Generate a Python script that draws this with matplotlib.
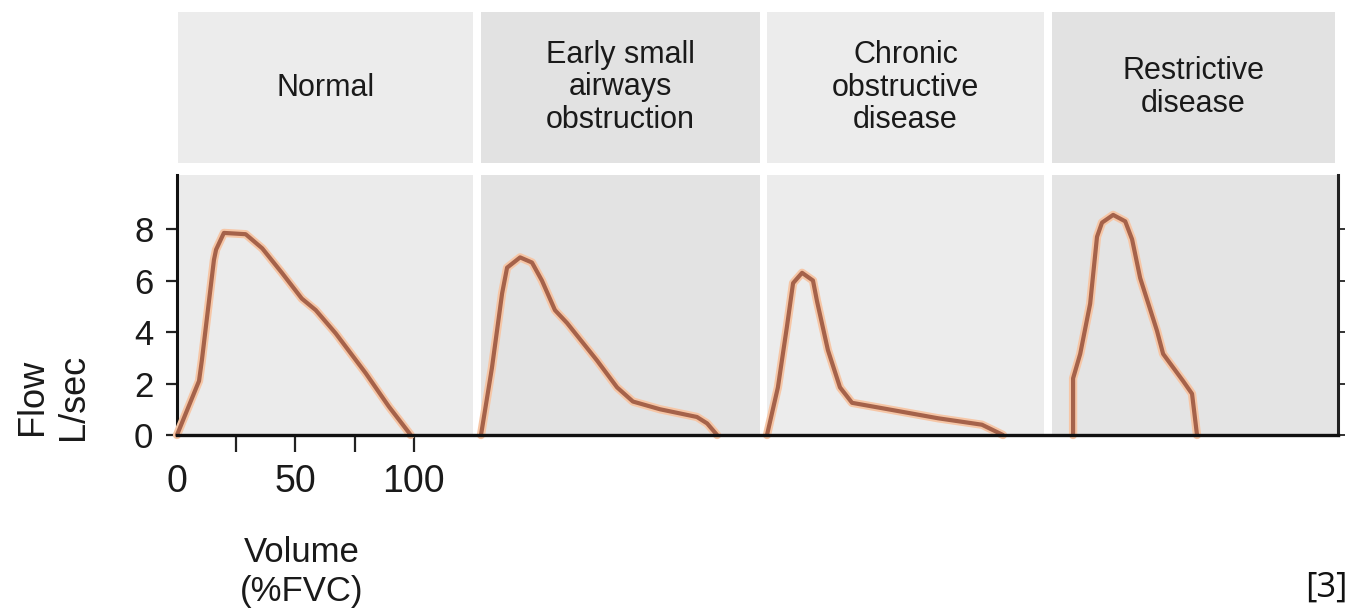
import matplotlib
matplotlib.use("Agg")
import matplotlib.pyplot as plt
import matplotlib.patheffects as pe

plt.rcParams['font.family'] = ['Liberation Sans', 'DejaVu Sans']

# ---------------- data ----------------
titles = ["Normal", "Early small\nairways\nobstruction",
          "Chronic\nobstructive\ndisease", "Restrictive\ndisease"]

normal_vol = [0, 9.3, 10.5, 13.5, 15.6, 16.5, 19.8, 29, 36, 44.3, 52.7, 58.6, 67, 79.7, 89.5, 98.7]
normal_flow = [0, 2.1, 2.9, 5.2, 6.8, 7.2, 7.85, 7.8, 7.25, 6.3, 5.3, 4.85, 3.95, 2.4, 1.1, 0]

early_vol = [0, 4.6, 8.9, 11, 16.5, 21.5, 25.7, 31.2, 36.3, 48.9, 57.4, 64.1, 75.5, 91.1, 95.4, 99.6]
early_flow = [0, 2.6, 5.5, 6.5, 6.9, 6.7, 6.0, 4.85, 4.35, 2.9, 1.85, 1.3, 1.0, 0.7, 0.45, 0]

copd_vol = [0, 4.6, 8.4, 11, 14.8, 19.4, 21.1, 25.7, 30.8, 35.9, 51.1, 72.2, 90.7, 99.6]
copd_flow = [0, 1.85, 4.2, 5.9, 6.3, 6.0, 5.2, 3.3, 1.85, 1.25, 1.0, 0.65, 0.4, 0]

restr_vol = [0, 0, 3.0, 7.2, 10.1, 12.2, 16.9, 22, 24.9, 28.3, 35.4, 38, 46.4, 50.2, 52.3]
restr_flow = [0, 2.2, 3.15, 5.1, 7.7, 8.25, 8.55, 8.3, 7.6, 6.1, 4.05, 3.15, 2.1, 1.6, 0]

series = [(normal_vol, normal_flow), (early_vol, early_flow),
          (copd_vol, copd_flow), (restr_vol, restr_flow)]

ytick_vals = [0, 2, 4, 6, 8]
ytick_labels = ["0", "2", "4", "6", "8"]
xtick_vals = [0, 25, 50, 75, 100]
xtick_labels = ["0", "", "50", "", "100"]

ylabel = "Flow\nL/sec"
xlabel = "Volume\n(%FVC)"
ref_text = "[3]"

# ---------------- layout (pixels) ----------------
W, H = 1350, 611
fig = plt.figure(figsize=(W / 100, H / 100), dpi=100)
fig.patch.set_facecolor("white")

panel_px = [(177, 473), (481, 760), (767, 1044), (1052, 1338)]
panel_xlim = [(0, 125), (0, 117.7), (0, 116.9), (-8.9, 111.8)]
panel_bg = ["#ebebeb", "#e3e3e3", "#ececec", "#e4e4e4"]
header_bg = ["#ececec", "#e2e2e2", "#ececec", "#e2e2e2"]
top_px, bot_px = 175, 435
head_top, head_bot = 12, 163


def rect(l, r, t, b):
    return [l / W, 1 - b / H, (r - l) / W, (b - t) / H]


line_color = "#a5624a"
halo = [pe.withStroke(linewidth=6.0, foreground="#f6c6a6")]

axes = []
for i, ((l, r), xl, bg, hbg, (xv, yv), title) in enumerate(
        zip(panel_px, panel_xlim, panel_bg, header_bg, series, titles)):
    ax = fig.add_axes(rect(l, r, top_px, bot_px))
    ax.set_facecolor(bg)
    ax.set_xlim(*xl)
    ax.set_ylim(0, 10.1)
    for s in ax.spines.values():
        s.set_visible(False)
    ax.plot(xv, yv, color=line_color, lw=3.0, solid_joinstyle="round",
            solid_capstyle="round", path_effects=halo, zorder=3, clip_on=False)
    ax.set_xticks([])
    ax.set_yticks([])
    axes.append(ax)

    hax = fig.add_axes(rect(l if i > 0 else 178, r if i < 3 else 1335, head_top, head_bot))
    hax.set_facecolor(hbg)
    for s in hax.spines.values():
        s.set_visible(False)
    hax.set_xticks([])
    hax.set_yticks([])
    hax.text(0.5, 0.5, title, ha="center", va="center", fontsize=22,
             linespacing=1.1, color="#1a1a1a", transform=hax.transAxes)

# first panel: axes with ticks
ax1 = axes[0]
ax1.spines["left"].set_visible(True)
ax1.spines["left"].set_linewidth(2.2)
ax1.spines["left"].set_color("#111111")
ax1.set_yticks(ytick_vals)
ax1.set_yticklabels(ytick_labels, fontsize=25, color="#1a1a1a")
ax1.tick_params(axis="y", direction="out", length=8, width=1.6, pad=9, color="#222222")
ax1.set_xticks(xtick_vals)
ax1.set_xticklabels(xtick_labels, fontsize=27, color="#1a1a1a")
ax1.tick_params(axis="x", direction="out", length=12, width=1.6, pad=9, color="#222222")
ax1.xaxis.get_major_ticks()[0].tick1line.set_visible(False)

# last panel: right spine with ticks
ax4 = axes[3]
ax4.spines["right"].set_visible(True)
ax4.spines["right"].set_linewidth(2.2)
ax4.spines["right"].set_color("#222222")
ax4.yaxis.tick_right()
ax4.set_yticks(ytick_vals)
ax4.set_yticklabels([])
ax4.tick_params(axis="y", direction="out", length=5, width=1.4, color="#333333")

# continuous baseline across all panels
base = fig.add_axes(rect(177, 1338, top_px, bot_px), zorder=10)
base.set_facecolor("none")
for k, s in base.spines.items():
    s.set_visible(k == "bottom")
base.spines["bottom"].set_linewidth(2.4)
base.spines["bottom"].set_color("#111111")
base.set_xticks([])
base.set_yticks([])

# axis labels
fig.text(53 / W, 1 - 397 / H, ylabel, rotation=90, ha="center", va="center",
         fontsize=26, linespacing=1.2, color="#1a1a1a")
fig.text(302 / W, 1 - 572 / H, xlabel, ha="center", va="center",
         fontsize=25, linespacing=1.25, color="#1a1a1a")

fig.text(1347 / W, 1 - 588 / H, ref_text, ha="right", va="center",
         fontsize=25, family=["Open Sans", "DejaVu Sans"], color="#111111")

fig.savefig("out.png", dpi=100, facecolor="white")
